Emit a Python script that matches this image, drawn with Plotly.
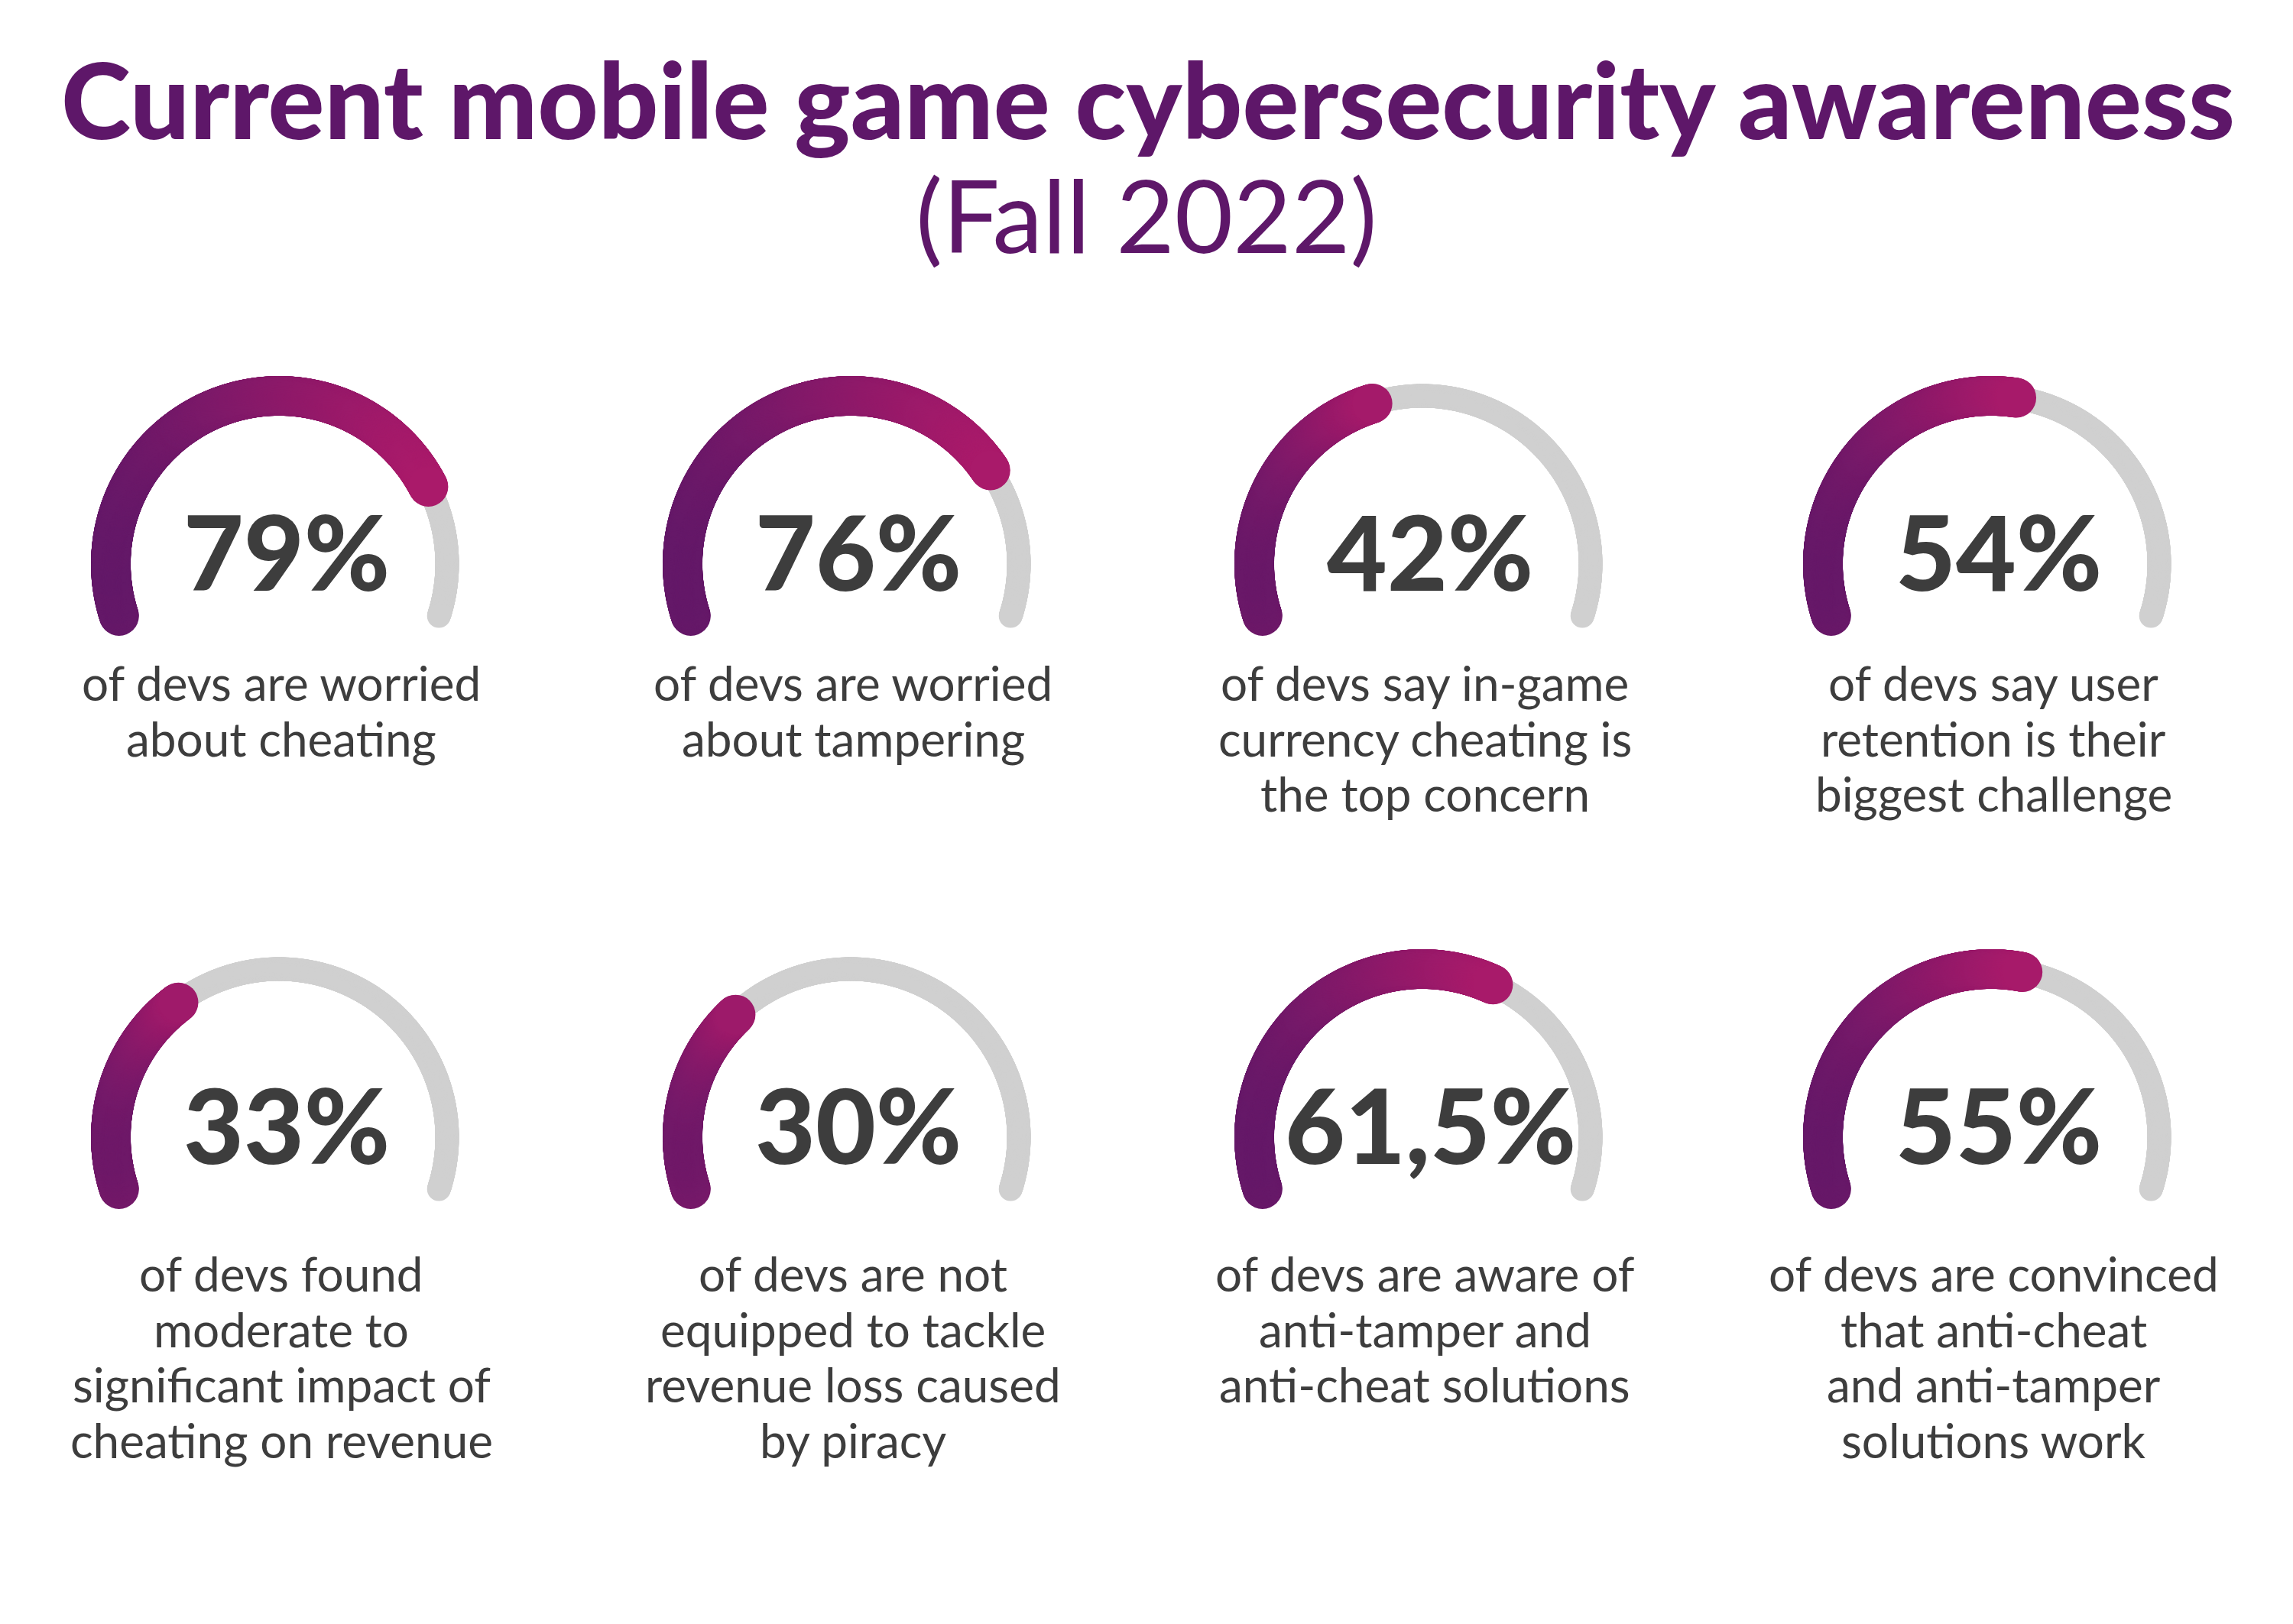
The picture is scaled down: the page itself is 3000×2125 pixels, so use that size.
import numpy as np
import plotly.graph_objects as go

# ---------------- data ----------------
title_text = "Current mobile game cybersecurity awareness"
subtitle_text = "(Fall 2022)"
values = [79, 76, 42, 54, 33, 30, 61.5, 55]
value_labels = ["79%", "76%", "42%", "54%", "33%", "30%", "61,5%", "55%"]
descriptions = [
    ["of devs are worried", "about cheating"],
    ["of devs are worried", "about tampering"],
    ["of devs say in-game", "currency cheating is", "the top concern"],
    ["of devs say user", "retention is their", "biggest challenge"],
    ["of devs found", "moderate to", "significant impact of", "cheating on revenue"],
    ["of devs are not", "equipped to tackle", "revenue loss caused", "by piracy"],
    ["of devs are aware of", "anti-tamper and", "anti-cheat solutions"],
    ["of devs are convinced", "that anti-cheat", "and anti-tamper", "solutions work"],
]

# ---------------- layout / style ----------------
W, H = 3000, 2125
col_x = [365, 1113, 1861, 2605]
row_y = [738, 1488]
desc_first = [893, 1666]
LINE_GAP = 72.7
R = 220
START, SWEEP = 198.0, 216.0
PURPLE = (0x5F, 0x18, 0x68)
MAGENTA = (0xAE, 0x1A, 0x6A)
GRAY = "#D0D0D0"
TEXT = "#3D3D3D"
TITLE_COLOR = "#5E1769"


def lerp_color(c0, c1, t):
    return "rgb(%d,%d,%d)" % tuple(round(a + (b - a) * t) for a, b in zip(c0, c1))


fig = go.Figure()
annotations = []

for i, v in enumerate(values):
    cx = col_x[i % 4]
    cy = row_y[i // 4]
    # background gray arc
    th = np.radians(np.linspace(START, START - SWEEP, 900))
    fig.add_trace(go.Scatter(
        x=cx + R * np.cos(th), y=cy - R * np.sin(th), mode="markers",
        marker=dict(size=31, color=GRAY, line=dict(width=0)),
        hoverinfo="skip", showlegend=False))
    # value arc with horizontal gradient
    end = START - SWEEP * v / 100.0
    n = max(50, int(900 * v / 100))
    th = np.radians(np.linspace(START, end, n))
    xs = cx + R * np.cos(th)
    ys = cy - R * np.sin(th)
    xmin, xmax = xs.min() - 26, xs.max() + 26
    cols = [lerp_color(PURPLE, MAGENTA, (x - xmin) / (xmax - xmin)) for x in xs]
    fig.add_trace(go.Scatter(
        x=xs, y=ys, mode="markers",
        marker=dict(size=52, color=cols, line=dict(width=0)),
        hoverinfo="skip", showlegend=False))
    # big value label
    annotations.append(dict(
        x=cx + 10, y=cy - 18, xref="x", yref="y", text=value_labels[i],
        showarrow=False, xanchor="center", yanchor="middle",
        font=dict(family="Lato", size=136, color=TEXT, weight=900)))
    # description lines
    for k, line in enumerate(descriptions[i]):
        annotations.append(dict(
            x=cx + 3, y=desc_first[i // 4] + k * LINE_GAP, xref="x", yref="y",
            text=line, showarrow=False, xanchor="center", yanchor="middle",
            font=dict(family="Lato", size=62, color=TEXT)))

annotations.append(dict(
    x=W / 2 + 2, y=128, xref="x", yref="y", text=title_text,
    showarrow=False, xanchor="center", yanchor="middle",
    font=dict(family="Lato", size=138, color=TITLE_COLOR, weight=900)))
annotations.append(dict(
    x=W / 2, y=280, xref="x", yref="y", text=subtitle_text,
    showarrow=False, xanchor="center", yanchor="middle",
    font=dict(family="Lato", size=132, color=TITLE_COLOR)))

fig.update_layout(
    width=W, height=H, margin=dict(l=0, r=0, t=0, b=0),
    paper_bgcolor="white", plot_bgcolor="white",
    xaxis=dict(range=[0, W], visible=False, fixedrange=True),
    yaxis=dict(range=[H, 0], visible=False, fixedrange=True),
    annotations=annotations, showlegend=False)

fig.write_html("out.html", config={"displayModeBar": False})
